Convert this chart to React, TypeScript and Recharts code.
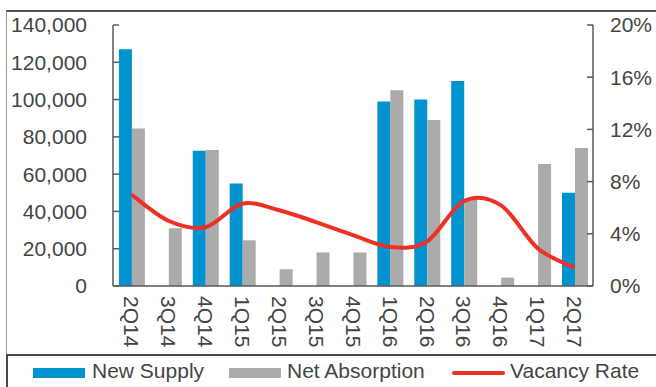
import React from 'react';
import { ComposedChart, Bar, Line, XAxis, YAxis, Legend } from 'recharts';

const categories = ['2Q14', '3Q14', '4Q14', '1Q15', '2Q15', '3Q15', '4Q15', '1Q16', '2Q16', '3Q16', '4Q16', '1Q17', '2Q17'];
const newSupply = [127000, 0, 72500, 55000, 0, 0, 0, 99000, 100000, 110000, 0, 0, 50000];
const netAbsorption = [84500, 31000, 73000, 24500, 9000, 18000, 18000, 105000, 89000, 47000, 4500, 65500, 74000];
const vacancyRate = [7.0, 5.0, 4.5, 6.3, 5.8, 4.9, 3.9, 3.0, 3.4, 6.5, 6.2, 2.9, 1.4];
const leftTicks = [0, 20000, 40000, 60000, 80000, 100000, 120000, 140000];
const rightTicks = [0, 4, 8, 12, 16, 20];

const data = categories.map((c, i) => ({
  name: c,
  supply: newSupply[i],
  absorption: netAbsorption[i],
  vacancy: vacancyRate[i],
}));

const BLUE = '#0093D0';
const GRAY = '#ABABAB';
const RED = '#EE3124';
const TEXT = '#444444';
const AXIS = '#595959';

// Excel-like smoothed line (Catmull-Rom / cardinal tension 0)
function excelCurve(context: any) {
  let pts: [number, number][] = [];
  return {
    areaStart() {},
    areaEnd() {},
    lineStart() {
      pts = [];
    },
    point(x: number, y: number) {
      pts.push([+x, +y]);
    },
    lineEnd() {
      const n = pts.length;
      if (!n) return;
      context.moveTo(pts[0][0], pts[0][1]);
      for (let i = 0; i < n - 1; i++) {
        const p0 = pts[Math.max(0, i - 1)];
        const p1 = pts[i];
        const p2 = pts[i + 1];
        const p3 = pts[Math.min(n - 1, i + 2)];
        context.bezierCurveTo(
          p1[0] + (p2[0] - p0[0]) / 6,
          p1[1] + (p2[1] - p0[1]) / 6,
          p2[0] - (p3[0] - p1[0]) / 6,
          p2[1] - (p3[1] - p1[1]) / 6,
          p2[0],
          p2[1]
        );
      }
    },
  };
}

const XTick = (props: any) => {
  const { x, y, payload } = props;
  return (
    <text
      x={x}
      y={y}
      transform={`rotate(90, ${x}, ${y})`}
      textAnchor="start"
      dy="0.35em"
      fill={TEXT}
      fontSize={21}
    >
      {payload.value}
    </text>
  );
};

const legendLayout: Record<string, { sx: number; tx: number; kind: string }> = {
  'New Supply': { sx: 33, tx: 92, kind: 'rect' },
  'Net Absorption': { sx: 229, tx: 287, kind: 'rect' },
  'Vacancy Rate': { sx: 452, tx: 510, kind: 'line' },
};

const LegendContent = (props: any) => {
  const { payload = [] } = props;
  return (
    <div style={{ position: 'relative', width: 656, height: 32 }}>
      <div
        style={{
          position: 'absolute',
          left: 6,
          top: -1,
          width: 700,
          height: 60,
          borderTop: '2px solid #4a4a4a',
          borderLeft: '2px solid #4a4a4a',
          boxSizing: 'border-box',
        }}
      />
      {payload.map((p: any) => {
        const l = legendLayout[p.value];
        if (!l) return null;
        return (
          <React.Fragment key={p.value}>
            {l.kind === 'rect' ? (
              <div style={{ position: 'absolute', left: l.sx, top: 13, width: 52, height: 10, background: p.color }} />
            ) : (
              <div style={{ position: 'absolute', left: l.sx, top: 16, width: 53, height: 4, borderRadius: 2, background: p.color }} />
            )}
            <div
              style={{
                position: 'absolute',
                left: l.tx,
                top: 4,
                fontSize: 21,
                lineHeight: '24px',
                color: TEXT,
                whiteSpace: 'nowrap',
              }}
            >
              {p.value}
            </div>
          </React.Fragment>
        );
      })}
    </div>
  );
};

export default function App() {
  return (
    <div
      style={{
        position: 'absolute',
        left: 0,
        top: 0,
        width: 656,
        height: 387,
        overflow: 'hidden',
        background: '#fff',
        fontFamily: '"Liberation Sans", Arial, sans-serif',
      }}
    >
      <div
        style={{
          position: 'absolute',
          left: 6,
          top: 10,
          width: 700,
          height: 360,
          borderTop: '2px solid #555',
          borderLeft: '1px solid #9a9a9a',
          boxSizing: 'border-box',
        }}
      />
      <div style={{ position: 'absolute', left: 0, top: 0 }}>
        <ComposedChart
          width={656}
          height={387}
          data={data}
          margin={{ top: 25, right: 0, bottom: 0, left: 13 }}
          barCategoryGap="16%"
          barGap={0}
        >
          <XAxis
            dataKey="name"
            interval={0}
            tickLine={false}
            tickSize={0}
            tickMargin={10}
            height={69}
            axisLine={{ stroke: AXIS, strokeWidth: 1.5 }}
            tick={<XTick />}
          />
          <YAxis
            yAxisId="left"
            orientation="left"
            width={100}
            domain={[0, 140000]}
            ticks={leftTicks}
            interval={0}
            tickFormatter={(v: number) => v.toLocaleString('en-US')}
            tickSize={-6}
            tickMargin={32}
            axisLine={{ stroke: AXIS, strokeWidth: 1.5 }}
            tickLine={{ stroke: AXIS, strokeWidth: 1.5 }}
            tick={{ fill: TEXT, fontSize: 21 }}
          />
          <YAxis
            yAxisId="right"
            orientation="right"
            width={63}
            domain={[0, 20]}
            ticks={rightTicks}
            interval={0}
            tickFormatter={(v: number) => `${v}%`}
            tickSize={-6}
            tickMargin={23}
            axisLine={{ stroke: AXIS, strokeWidth: 1.5 }}
            tickLine={{ stroke: AXIS, strokeWidth: 1.5 }}
            tick={{ fill: TEXT, fontSize: 21, textAnchor: 'start' }}
          />
          <Legend verticalAlign="bottom" height={32} wrapperStyle={{ left: 0, width: 656, bottom: 0 }} content={<LegendContent />} />
          <Bar yAxisId="left" dataKey="supply" name="New Supply" fill={BLUE} isAnimationActive={false} />
          <Bar yAxisId="left" dataKey="absorption" name="Net Absorption" fill={GRAY} isAnimationActive={false} />
          <Line
            yAxisId="right"
            dataKey="vacancy"
            name="Vacancy Rate"
            type={excelCurve as any}
            stroke={RED}
            strokeWidth={4}
            dot={false}
            activeDot={false}
            isAnimationActive={false}
          />
        </ComposedChart>
      </div>
    </div>
  );
}
